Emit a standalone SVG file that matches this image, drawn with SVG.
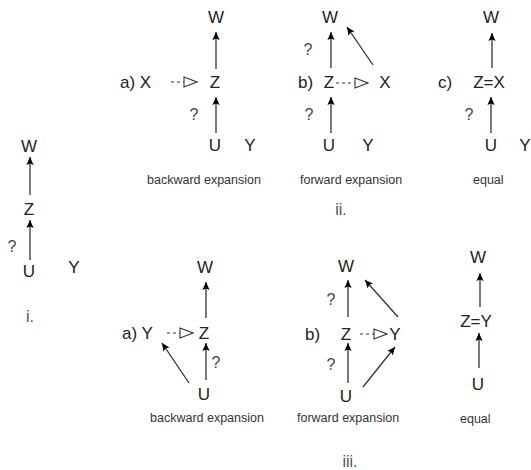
<svg xmlns="http://www.w3.org/2000/svg" width="531" height="470" viewBox="0 0 531 470">
<style>
.n{font-family:"Liberation Sans",Arial,sans-serif;font-size:17px;fill:#222;text-anchor:middle}
.s{font-family:"Liberation Sans",Arial,sans-serif;font-size:17px;fill:#222}
.q{font-family:"Liberation Sans",Arial,sans-serif;font-size:16px;fill:#444;text-anchor:middle}
.l{font-family:"Liberation Sans",Arial,sans-serif;font-size:12.5px;fill:#333}
.r{font-family:"Liberation Sans",Arial,sans-serif;font-size:16px;fill:#555;text-anchor:middle}
.e{stroke:#333;stroke-width:1.3;fill:none;marker-end:url(#ah)}
.d{stroke:#333;stroke-width:1.1;fill:none;stroke-dasharray:3 3;marker-end:url(#oh)}
</style>
<defs>
<marker id="ah" viewBox="0 0 10 9" markerWidth="8" markerHeight="8" refX="10" refY="4.5" orient="auto" markerUnits="userSpaceOnUse">
<path d="M0,0 L10,4.5 L0,9 L2,4.5 z" fill="#000"/>
</marker>
<marker id="oh" viewBox="-1 -1 15 12" markerWidth="15" markerHeight="12" refX="13" refY="5" orient="auto" markerUnits="userSpaceOnUse">
<path d="M0,0 L13,5 L0,10 z" fill="#fff" stroke="#333" stroke-width="1.1"/>
</marker>
</defs>

<g id="connectors">
<!-- i -->
<line class="e" x1="30" y1="195" x2="30" y2="157"/>
<line class="e" x1="30" y1="260" x2="30" y2="220"/>
<!-- ii a -->
<line class="e" x1="216" y1="69" x2="216" y2="32"/>
<line class="e" x1="216" y1="133" x2="216" y2="97"/>
<line class="d" x1="171" y1="82" x2="197" y2="82"/>
<!-- ii b -->
<line class="e" x1="331" y1="68" x2="331" y2="32"/>
<line class="e" x1="373" y1="65" x2="347" y2="27"/>
<line class="e" x1="331" y1="133" x2="331" y2="97"/>
<line class="d" x1="336" y1="83" x2="368" y2="83"/>
<!-- ii c -->
<line class="e" x1="492" y1="68" x2="492" y2="33"/>
<line class="e" x1="491" y1="133" x2="491" y2="97"/>
<!-- iii a -->
<line class="e" x1="206" y1="318" x2="206" y2="282"/>
<line class="e" x1="206" y1="380" x2="206" y2="343"/>
<line class="e" x1="189" y1="383" x2="162" y2="343"/>
<line class="d" x1="167" y1="333" x2="193" y2="333"/>
<!-- iii b -->
<line class="e" x1="348" y1="317" x2="348" y2="280"/>
<line class="e" x1="398" y1="317" x2="365" y2="280"/>
<line class="e" x1="348" y1="383" x2="348" y2="343"/>
<line class="e" x1="363" y1="387" x2="395" y2="347"/>
<line class="d" x1="360" y1="334" x2="387" y2="334"/>
<!-- iii c -->
<line class="e" x1="480" y1="307" x2="480" y2="273"/>
<line class="e" x1="479" y1="368" x2="479" y2="333"/>
</g>

<!-- panel i -->
<g id="i-W"><text class="n" x="29" y="152">W</text></g>
<g id="i-Z"><text class="n" x="29" y="215">Z</text></g>
<g id="i-U"><text class="n" x="29" y="277">U</text></g>
<g id="i-Y"><text class="n" x="74" y="273">Y</text></g>
<g id="i-q"><text class="q" x="12" y="252">?</text></g>
<g id="i-label"><text class="r" x="30" y="322">i.</text></g>

<!-- panel ii a -->
<g id="iia-W"><text class="n" x="216" y="23">W</text></g>
<g id="iia-X"><text class="s" x="120" y="88">a) X</text></g>
<g id="iia-Z"><text class="n" x="215" y="88">Z</text></g>
<g id="iia-U"><text class="n" x="215" y="151">U</text></g>
<g id="iia-Y"><text class="n" x="250" y="151">Y</text></g>
<g id="iia-q"><text class="q" x="194" y="120">?</text></g>
<g id="iia-label"><text class="l" x="147" y="184">backward expansion</text></g>

<!-- panel ii b -->
<g id="iib-W"><text class="n" x="330" y="23">W</text></g>
<g id="iib-q1"><text class="q" x="308" y="55">?</text></g>
<g id="iib-b"><text class="s" x="298" y="88">b)</text></g>
<g id="iib-Z"><text class="n" x="329" y="88">Z</text></g>
<g id="iib-X"><text class="n" x="385" y="88">X</text></g>
<g id="iib-q2"><text class="q" x="309" y="120">?</text></g>
<g id="iib-U"><text class="n" x="329" y="151">U</text></g>
<g id="iib-Y"><text class="n" x="368" y="151">Y</text></g>
<g id="iib-label"><text class="l" x="300" y="184">forward expansion</text></g>

<!-- panel ii c -->
<g id="iic-W"><text class="n" x="491" y="23">W</text></g>
<g id="iic-c"><text class="s" x="438" y="88">c)</text></g>
<g id="iic-ZX"><text class="n" x="489" y="88">Z=X</text></g>
<g id="iic-q"><text class="q" x="469" y="120">?</text></g>
<g id="iic-U"><text class="n" x="491" y="151">U</text></g>
<g id="iic-Y"><text class="n" x="525" y="151">Y</text></g>
<g id="iic-label"><text class="l" x="473" y="184">equal</text></g>
<g id="ii-label"><text class="r" x="341" y="215">ii.</text></g>

<!-- panel iii a -->
<g id="iiia-W"><text class="n" x="205" y="273">W</text></g>
<g id="iiia-Y"><text class="s" x="122" y="339">a) Y</text></g>
<g id="iiia-Z"><text class="n" x="204" y="339">Z</text></g>
<g id="iiia-q"><text class="q" x="216" y="368">?</text></g>
<g id="iiia-U"><text class="n" x="204" y="400">U</text></g>
<g id="iiia-label"><text class="l" x="150" y="422">backward expansion</text></g>

<!-- panel iii b -->
<g id="iiib-W"><text class="n" x="346" y="272">W</text></g>
<g id="iiib-q1"><text class="q" x="331" y="305">?</text></g>
<g id="iiib-b"><text class="s" x="305" y="340">b)</text></g>
<g id="iiib-Z"><text class="n" x="346" y="340">Z</text></g>
<g id="iiib-Y"><text class="n" x="395" y="340">Y</text></g>
<g id="iiib-q2"><text class="q" x="331" y="370">?</text></g>
<g id="iiib-U"><text class="n" x="346" y="402">U</text></g>
<g id="iiib-label"><text class="l" x="297" y="422">forward expansion</text></g>

<!-- panel iii c -->
<g id="iiic-W"><text class="n" x="478" y="263">W</text></g>
<g id="iiic-ZY"><text class="n" x="476" y="327">Z=Y</text></g>
<g id="iiic-U"><text class="n" x="478" y="390">U</text></g>
<g id="iiic-label"><text class="l" x="460" y="423">equal</text></g>
<g id="iii-label"><text class="r" x="350" y="467">iii.</text></g>
</svg>
